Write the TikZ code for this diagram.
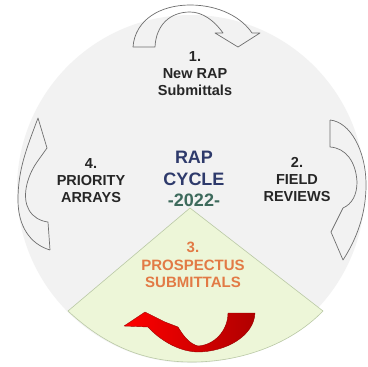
\documentclass[tikz,border=0pt]{standalone}
\usepackage{fontspec}
\setmainfont{Liberation Sans}
\definecolor{discgray}{HTML}{F2F2F2}
\definecolor{wedgegreen}{HTML}{EDF6D8}
\definecolor{wedgeline}{HTML}{BAC9A6}
\definecolor{arrowgray}{HTML}{6E6E6E}
\definecolor{labgray}{HTML}{262626}
\definecolor{rapblue}{HTML}{2E3A6B}
\definecolor{yeargreen}{HTML}{3D6A5C}
\definecolor{prosorange}{HTML}{E27A45}
\definecolor{darkred}{HTML}{B00000}
\begin{document}
\begin{tikzpicture}[x=1pt,y=-1pt,
    steplabel/.style={font=\bfseries\fontsize{14.5}{17}\selectfont,text=labgray,align=center,inner sep=0pt},
    cycletitle/.style={font=\bfseries\fontsize{18}{21.5}\selectfont,text=rapblue,align=center,inner sep=0pt},
    ringarrow/.style={draw=arrowgray,line width=0.7pt,line join=round}]
    \useasboundingbox (0,0) rectangle (367,367);
    \fill[white] (0,0) rectangle (367,367);
    % disc and wedge
    \fill[discgray] (191,189) circle (174);
    \filldraw[fill=wedgegreen,draw=wedgeline,line width=0.6pt]
        (190,208) -- (68,311) .. controls (110,350) and (150,362) .. (192,362)
        .. controls (240,362) and (290,345) .. (323,311) -- cycle;
    % outlined arrows
    \draw[ringarrow] (133,47) .. controls (135,20) and (160,5) .. (190,5)
        .. controls (220,5) and (242,18) .. (252,33) -- (260,33) -- (238,47)
        -- (215,33) -- (223,33) .. controls (214,20) and (202,12) .. (190,12)
        .. controls (170,12) and (156,25) .. (155,47) -- cycle;
    \draw[ringarrow] (330,120) -- (330,147) .. controls (346,148) and (356,162) .. (357,182)
        .. controls (357,195) and (352,204) .. (343,208) -- (331,232) -- (343,260)
        .. controls (356,240) and (366,215) .. (366,185)
        .. controls (366,150) and (350,122) .. (330,120);
    \draw[ringarrow] (50,250) -- (48,222) .. controls (40,221) and (33,217) .. (29,210)
        .. controls (22,198) and (26,178) .. (37,162) -- (47,148) -- (38,118)
        .. controls (26,150) and (18,170) .. (18,200)
        .. controls (18,226) and (30,244) .. (50,250);
    % red arrow
    \path[left color=red,right color=darkred,draw=red!60!black,line width=0.4pt,line join=round]
        (228,313) -- (255,313) .. controls (254,336) and (226,352) .. (197,352)
        .. controls (176,351) and (158,338) .. (148,327) -- (124,326) -- (145,312)
        -- (165,322) -- (178,327) .. controls (184,337) and (190,344) .. (198,346)
        .. controls (215,345) and (228,330) .. (228,313) -- cycle;
    % labels
    \node[steplabel] (step1) at (195,74) {1.\\New RAP\\Submittals};
    \node[steplabel] (step2) at (297,180) {2.\\FIELD\\REVIEWS};
    \node[steplabel,text=prosorange,font=\bfseries\fontsize{15}{17.5}\selectfont] (step3) at (193,265) {3.\\PROSPECTUS\\SUBMITTALS};
    \node[steplabel] (step4) at (91,181) {4.\\PRIORITY\\ARRAYS};
    \node[cycletitle] (cycle) at (194,179) {RAP\\CYCLE\\\textcolor{yeargreen}{-2022-}};
\end{tikzpicture}
\end{document}
